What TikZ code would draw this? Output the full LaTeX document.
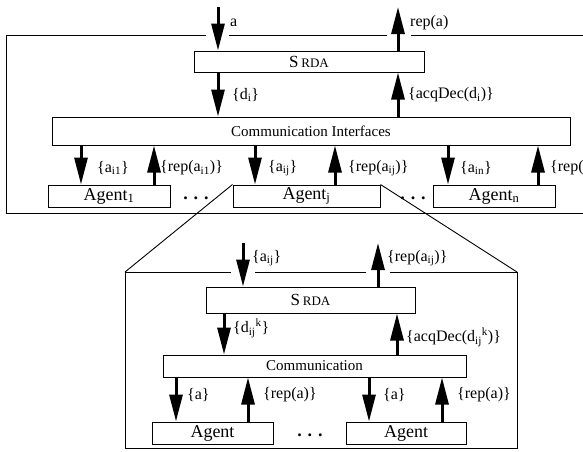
\documentclass[tikz,border=0pt]{standalone}
\usepackage{fontspec}
\setmainfont{Liberation Serif}
\usetikzlibrary{arrows.meta,positioning}
\tikzset{
    box/.style={rectangle,draw,line width=1pt,inner sep=0pt},
    agentbox/.style={box,minimum height=22pt,font=\fontsize{18}{20}\selectfont},
    commbox/.style={box,font=\fontsize{15}{17}\selectfont},
    pre/.style={-{Triangle[length=27pt,width=13pt]},line width=3pt},
    post/.style={{Triangle[length=27pt,width=13pt]}-,line width=3pt},
    lbl/.style={anchor=west,inner sep=0pt,font=\fontsize{16}{18}\selectfont},
    dots/.style={inner sep=0pt,font=\fontsize{18}{20}\selectfont\bfseries},
    encl/.style={line width=1pt},
    lens/.style={line width=0.9pt}
}
\newcommand{\srda}{{\fontsize{17}{18}\selectfont S\,}{\fontsize{13}{14}\selectfont RDA}}

\begin{document}
\begin{tikzpicture}[x=1pt,y=-1pt]

    \useasboundingbox (0,0) rectangle (583,451);

    \node[box,minimum width=230pt,minimum height=21pt] (srda1) at (309,61.5) {\srda};
    \node[commbox,minimum width=518pt,minimum height=28pt] (comm1) at (311,131) {Communication Interfaces};
    \node[agentbox,minimum width=122pt] (agent1) at (109,196) {Agent\textsubscript{1}};
    \node[agentbox,minimum width=147pt] (agentj) at (306.5,196) {Agent\textsubscript{j}};
    \node[agentbox,minimum width=122pt] (agentn) at (494,196) {Agent\textsubscript{n}};
    \node[dots] (dots1) at (196,198) {. . .};
    \node[dots] (dots2) at (413,198) {. . .};

    \coordinate (a in) at (218,7);
    \coordinate (rep out) at (398,7);
    \draw[pre]  (a in) -- (a in |- srda1.north);
    \draw[post] (rep out) -- (rep out |- srda1.north);
    \draw[pre]  (srda1.south -| a in) -- (comm1.north -| a in);
    \draw[post] (srda1.south -| rep out) -- (comm1.north -| rep out);

    \draw[pre]  (comm1.south -| 81,0)  -- (agent1.north -| 81,0);
    \draw[post] (comm1.south -| 154,0) -- (agent1.north -| 154,0);
    \draw[pre]  (comm1.south -| 255,0) -- (agentj.north -| 255,0);
    \draw[post] (comm1.south -| 335,0) -- (agentj.north -| 335,0);
    \draw[pre]  (comm1.south -| 448,0) -- (agentn.north -| 448,0);
    \draw[post] (comm1.south -| 538,0) -- (agentn.north -| 538,0);

    \node[lbl] (lbl a)    at (230,23)  {a};
    \node[lbl] (lbl repa) at (410,23)  {rep(a)};
    \node[lbl] (lbl di)   at (232,95)  {\{d\textsubscript{i}\}};
    \node[lbl] (lbl acq)  at (408,95)  {\{acqDec(d\textsubscript{i})\}};
    \node[lbl] (lbl a1)   at (97,168)  {\{a\textsubscript{i1}\}};
    \node[lbl] (lbl r1)   at (160,168) {\{rep(a\textsubscript{i1})\}};
    \node[lbl] (lbl aj)   at (268,168) {\{a\textsubscript{ij}\}};
    \node[lbl] (lbl rj)   at (348,168) {\{rep(a\textsubscript{ij})\}};
    \node[lbl] (lbl an)   at (460,168) {\{a\textsubscript{in}\}};
    \node[lbl] (lbl rn)   at (550,168) {\{rep(a\textsubscript{in})\}};

    \draw[encl] (583,35) -- (411,35) (387,35) -- (229,35) (206,35) -- (6,35) -- (6,213) -- (583,213);

    \coordinate (lens nw) at (125,272);
    \coordinate (lens ne) at (517,272);
    \draw[lens] (agentj.north west) -- (lens nw) (agentj.north east) -- (lens ne);
    \draw[encl] (lens nw) -- (231,272) (255,272) -- (366,272) (390,272) -- (lens ne) -- (517,448) -- (125,448) -- (lens nw);

    \node[box,minimum width=209pt,minimum height=26pt] (srda2) at (310.5,300) {\srda};
    \node[commbox,minimum width=303pt,minimum height=22pt] (comm2) at (314.5,366) {Communication};
    \node[agentbox,minimum width=121pt] (agenta) at (212.5,433) {Agent};
    \node[agentbox,minimum width=120pt] (agentb) at (406,433) {Agent};
    \node[dots] (dots3) at (310,435) {. . .};

    \coordinate (aij in) at (243,243);
    \coordinate (repij out) at (378,243);
    \draw[pre]  (aij in) -- (aij in |- srda2.north);
    \draw[post] (repij out) -- (repij out |- srda2.north);
    \draw[pre]  (srda2.south -| 224,0) -- (comm2.north -| 224,0);
    \draw[post] (srda2.south -| 397,0) -- (comm2.north -| 397,0);

    \draw[pre]  (comm2.south -| 176,0) -- (agenta.north -| 176,0);
    \draw[post] (comm2.south -| 248,0) -- (agenta.north -| 248,0);
    \draw[pre]  (comm2.south -| 369,0) -- (agentb.north -| 369,0);
    \draw[post] (comm2.south -| 442,0) -- (agentb.north -| 442,0);

    \node[lbl] (lbl aij)  at (252,258) {\{a\textsubscript{ij}\}};
    \node[lbl] (lbl rij)  at (387,258) {\{rep(a\textsubscript{ij})\}};
    \node[lbl] (lbl dij)  at (233,328) {\{d\textsubscript{ij}\textsuperscript{k}\}};
    \node[lbl] (lbl acqk) at (406,337) {\{acqDec(d\textsubscript{ij}\textsuperscript{k})\}};
    \node[lbl] (lbl ax)   at (187,395) {\{a\}};
    \node[lbl] (lbl rx)   at (263,395) {\{rep(a)\}};
    \node[lbl] (lbl ay)   at (383,395) {\{a\}};
    \node[lbl] (lbl ry)   at (457,395) {\{rep(a)\}};

\end{tikzpicture}
\end{document}
